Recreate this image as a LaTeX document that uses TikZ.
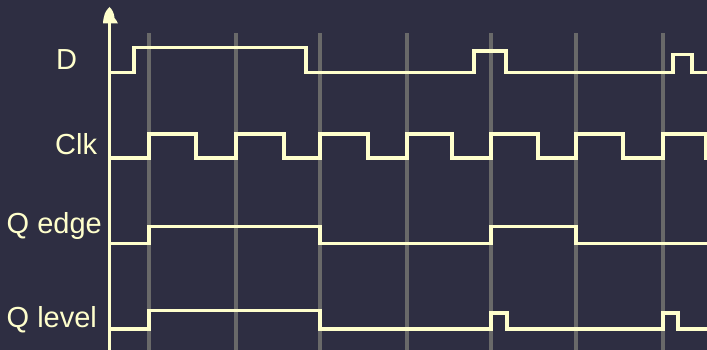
\documentclass[tikz,border=0pt]{standalone}
\usepackage{fontspec}
\setmainfont{Liberation Sans}
\definecolor{bg}{RGB}{46,46,66}
\definecolor{sig}{RGB}{255,255,204}
\definecolor{grid}{RGB}{105,105,105}
\tikzset{
  sigline/.style={draw=sig, line width=3.5pt, line join=miter},
  gridline/.style={draw=grid, line width=3.5pt},
  lbl/.style={text=sig, font=\fontsize{29}{33}\selectfont, inner sep=0pt, anchor=base west}
}
\begin{document}
\begin{tikzpicture}[x=1pt,y=-1pt]
\fill[bg] (0,0) rectangle (707,350);
\useasboundingbox (0,0) rectangle (707,350);
% grid lines at clock rising edges
\foreach \x in {149,236,320,407,491,576,663}
  \draw[gridline] (\x,33) -- (\x,350);
% axis
\coordinate (axbot) at (109.5,352);
\coordinate (axtop) at (109.5,7);
\draw[sig, line width=3.5pt] (axbot) -- (109.5,22);
\fill[sig] (axtop) .. controls (112,9) and (114.5,14) .. (114.5,18)
  .. controls (115.5,20) and (117.5,21) .. (118,23.5) -- (103,23.5)
  .. controls (103.5,16) and (105,11) .. cycle;
% labels
\node[lbl] (lD) at (56,69.5) {D};
\node[lbl] (lClk) at (55,154.5) {Clk};
\node[lbl] (lQe) at (6.5,233) {Q edge};
\node[lbl] (lQl) at (6.5,327) {Q level};
% D
\draw[sigline] (109.5,72.5) -- (134,72.5) -- (134,47.5) -- (306,47.5) -- (306,72.5)
  -- (474,72.5) -- (474,51) -- (506,51) -- (506,72.5)
  -- (673,72.5) -- (673,54.5) -- (692,54.5) -- (692,72.5) -- (708,72.5);
% Clk
\draw[sigline] (109.5,158) -- (149,158) -- (149,134) -- (196,134) -- (196,158)
  -- (236,158) -- (236,134) -- (284,134) -- (284,158)
  -- (320,158) -- (320,134) -- (368,134) -- (368,158)
  -- (407,158) -- (407,134) -- (452,134) -- (452,158)
  -- (491,158) -- (491,134) -- (538,134) -- (538,158)
  -- (576,158) -- (576,134) -- (623,134) -- (623,158)
  -- (663,158) -- (663,134) -- (706,134) -- (706,158) -- (708,158);
% Q edge
\draw[sigline] (109.5,243.5) -- (149,243.5) -- (149,226.5) -- (320,226.5) -- (320,243.5)
  -- (491,243.5) -- (491,226.5) -- (576,226.5) -- (576,243.5) -- (708,243.5);
% Q level
\draw[sigline] (109.5,329) -- (149,329) -- (149,310.5) -- (320,310.5) -- (320,329)
  -- (491,329) -- (491,313) -- (507,313) -- (507,329)
  -- (663,329) -- (663,313) -- (678,313) -- (678,329) -- (708,329);
\end{tikzpicture}
\end{document}
